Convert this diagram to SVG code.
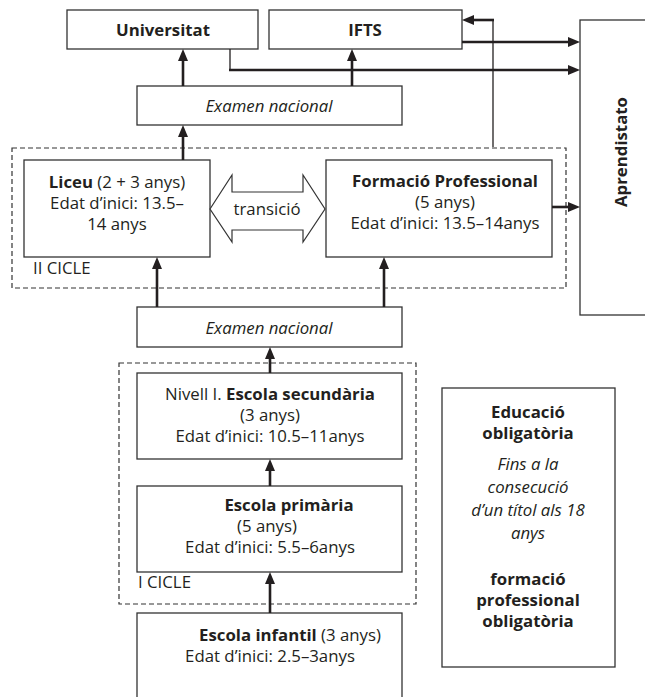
<svg xmlns="http://www.w3.org/2000/svg" width="645" height="697" viewBox="0 0 645 697">
<style>
.box{fill:#fff;stroke:#333;stroke-width:1.3}
.dash{fill:none;stroke:#333;stroke-width:1.2;stroke-dasharray:5 3}
.t{font-family:"Open Sans","Liberation Sans",sans-serif;font-size:16.8px;fill:#231f20}
.c{text-anchor:middle}
.b{font-weight:bold}
.i{font-style:italic}
.arr{fill:none;stroke:#231f20;stroke-width:2.6;marker-end:url(#ah)}
.thin{fill:none;stroke:#231f20;stroke-width:1.3}
</style>
<defs>
<marker id="ah" viewBox="0 0 12 10" refX="4" refY="5" markerWidth="12" markerHeight="10" markerUnits="userSpaceOnUse" orient="auto">
<path d="M0,0 L12,5 L0,10 z" fill="#231f20"/>
</marker>
</defs>
<rect width="645" height="697" fill="#fff"/>

<rect class="dash" x="12" y="148" width="554" height="140"/>
<rect class="dash" x="119" y="363" width="297" height="241"/>

<g id="universitat">
<rect class="box" x="67" y="10" width="191" height="39"/>
<text class="t c b" x="163" y="36">Universitat</text>
</g>
<g id="ifts">
<rect class="box" x="269" y="10" width="193" height="39"/>
<text class="t c b" x="365" y="36">IFTS</text>
</g>
<g id="examen1">
<rect class="box" x="137" y="86" width="265" height="39"/>
<text class="t c i" x="269" y="112">Examen nacional</text>
</g>
<g id="aprendistato">
<rect class="box" x="580" y="20" width="80" height="295"/>
<text class="t c b" transform="translate(627,152) rotate(-90)">Aprendistato</text>
</g>
<g id="liceu">
<rect class="box" x="24" y="160" width="186" height="97"/>
<text class="t c" x="117" y="188"><tspan class="b">Liceu</tspan> (2 + 3 anys)</text>
<text class="t c" x="117" y="209">Edat d’inici: 13.5–</text>
<text class="t c" x="117" y="230">14 anys</text>
</g>
<g id="transicio">
<polygon points="210,209 232,175 232,192 303,192 303,175 325,209 303,242 303,230 232,230 232,242" fill="#fff" stroke="#333" stroke-width="1.2"/>
<text class="t c" x="267" y="215">transició</text>
</g>
<g id="fp">
<rect class="box" x="326" y="160" width="226" height="97"/>
<text class="t c b" x="445" y="187">Formació Professional</text>
<text class="t c" x="445" y="208">(5 anys)</text>
<text class="t c" x="445" y="229">Edat d’inici: 13.5–14anys</text>
</g>
<text class="t" id="cicle2" x="33" y="274">II CICLE</text>
<g id="examen2">
<rect class="box" x="137" y="307" width="265" height="40"/>
<text class="t c i" x="269" y="334">Examen nacional</text>
</g>
<g id="secundaria">
<rect class="box" x="137" y="373" width="265" height="86"/>
<text class="t c" x="270" y="400">Nivell I. <tspan class="b">Escola secundària</tspan></text>
<text class="t c" x="270" y="421">(3 anys)</text>
<text class="t c" x="270" y="442">Edat d’inici: 10.5–11anys</text>
</g>
<g id="primaria">
<rect class="box" x="137" y="486" width="265" height="86"/>
<text class="t c b" x="289" y="511">Escola primària</text>
<text class="t c" x="267" y="532">(5 anys)</text>
<text class="t c" x="270" y="553">Edat d’inici: 5.5–6anys</text>
</g>
<text class="t" id="cicle1" x="138" y="588">I CICLE</text>
<g id="infantil">
<rect class="box" x="137" y="613" width="265" height="100"/>
<text class="t c" x="290" y="641"><tspan class="b">Escola infantil</tspan> (3 anys)</text>
<text class="t c" x="270" y="662">Edat d’inici: 2.5–3anys</text>
</g>
<g id="obligatoria">
<rect class="box" x="442" y="388" width="173" height="279"/>
<text class="t c b" x="528" y="418">Educació</text>
<text class="t c b" x="528" y="439">obligatòria</text>
<text class="t c i" x="528" y="470">Fins a la</text>
<text class="t c i" x="528" y="493">consecució</text>
<text class="t c i" x="528" y="516">d’un títol als 18</text>
<text class="t c i" x="528" y="539">anys</text>
<text class="t c b" x="528" y="585">formació</text>
<text class="t c b" x="528" y="606">professional</text>
<text class="t c b" x="528" y="627">obligatòria</text>
</g>

<g id="connectors">
<line class="arr" x1="183" y1="86" x2="183" y2="57"/>
<line class="arr" x1="352" y1="86" x2="352" y2="57"/>
<line class="arr" x1="183" y1="160" x2="183" y2="133"/>
<polyline class="thin" points="230,49 230,70 240,70"/>
<line class="arr" x1="229" y1="70" x2="572" y2="70"/>
<line class="arr" x1="462" y1="42" x2="572" y2="42"/>
<polyline class="thin" points="493,147 493,20"/>
<line class="arr" x1="494" y1="20" x2="470" y2="20"/>
<line class="arr" x1="552" y1="207" x2="572" y2="207"/>
<line class="arr" x1="157" y1="307" x2="157" y2="265"/>
<line class="arr" x1="384" y1="307" x2="384" y2="265"/>
<line class="arr" x1="270" y1="373" x2="270" y2="355"/>
<line class="arr" x1="270" y1="486" x2="270" y2="467"/>
<line class="arr" x1="270" y1="613" x2="270" y2="580"/>
</g>
</svg>
